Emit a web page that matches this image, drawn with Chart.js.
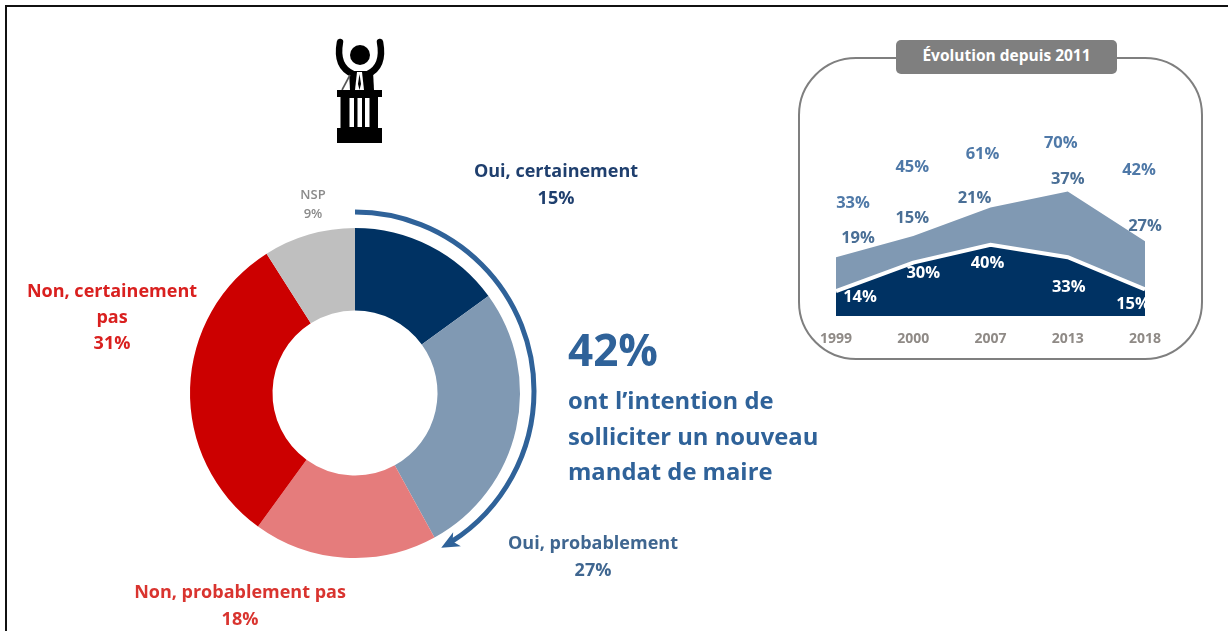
<!DOCTYPE html>
<html lang="fr">
<head>
<meta charset="utf-8">
<title>Intention de solliciter un nouveau mandat</title>
<script src="https://cdn.jsdelivr.net/npm/chart.js@4/dist/chart.umd.min.js"></script>
<style>
  html, body { margin: 0; padding: 0; background: #fff; }
  body { width: 1228px; height: 631px; position: relative; overflow: hidden; font-family: "Open Sans", sans-serif; filter: blur(0.4px); }
  #frame { position: absolute; left: 5px; top: 5px; width: 1240px; height: 640px; border: 2px solid #111; box-sizing: border-box; }
  #donutWrap { position: absolute; left: 130px; top: 168px; width: 450px; height: 450px; }
  #areaWrap { position: absolute; left: 796px; top: 130px; width: 390px; height: 220px; }
  #inset { position: absolute; left: 798px; top: 57px; width: 405px; height: 303px; border: 2px solid #7f7f7f; border-radius: 58px; box-sizing: border-box; }
  #insetTitle { position: absolute; left: 896px; top: 40px; width: 221px; height: 34px; background: #7f7f7f; border-radius: 5px; color: #fff; font-weight: 700; font-size: 15.5px; line-height: 31px; text-align: center; }
  .t { position: absolute; font-weight: 700; text-align: center; white-space: nowrap; font-size: 18px; }
  #big { position: absolute; left: 568px; top: 320px; color: #2f6299; font-weight: 700; font-size: 44px; line-height: 58px; }
  #bigText { position: absolute; left: 568px; top: 383px; color: #2f6299; font-weight: 700; font-size: 23.8px; line-height: 35.5px; white-space: nowrap; }
  #icon { position: absolute; left: 330px; top: 36px; }
</style>
</head>
<body>
<div id="frame"></div>

<svg id="icon" width="60" height="110" viewBox="0 0 60 110">
  <path d="M10 6 C7 22 11 33 23 38 M50 6 C53 22 49 33 38 38" fill="none" stroke="#000" stroke-width="6.5" stroke-linecap="round"/>
  <circle cx="30" cy="19" r="10" fill="#000"/>
  <path d="M19 35 L43 35 L44 54 L20 54 Z" fill="#000"/>
  <path d="M27 36 L25 54 L34 54 L32 36 Z" fill="#fff"/>
  <path d="M29.5 38 L28 48 L29.5 54 L31 48 Z" fill="#000"/>
  <path d="M20 39 L12 54" fill="none" stroke="#555" stroke-width="1.6"/>
  <rect x="7" y="54" width="45" height="7" fill="#000"/>
  <rect x="10.5" y="61" width="37.5" height="31" fill="#000"/>
  <rect x="19.5" y="62" width="4.5" height="29" fill="#fff"/>
  <rect x="27.5" y="62" width="4.5" height="29" fill="#fff"/>
  <rect x="35" y="62" width="4.5" height="29" fill="#fff"/>
  <rect x="7" y="92" width="45" height="15" fill="#000"/>
</svg>

<div id="donutWrap"><canvas id="donutChart"></canvas></div>

<div class="t" style="left:456px;top:157px;width:200px;color:#1f3f6e;line-height:27px">Oui, certainement<br>15%</div>
<div class="t" style="left:493px;top:529px;width:200px;color:#3f6690;line-height:27px">Oui, probablement<br>27%</div>
<div class="t" style="left:120px;top:578px;width:240px;color:#d9342f;line-height:27px">Non, probablement pas<br>18%</div>
<div class="t" style="left:12px;top:277px;width:200px;color:#d9201f;line-height:26px">Non, certainement<br>pas<br>31%</div>
<div class="t" style="left:283px;top:185px;width:60px;color:#8a8a8a;font-size:13px;font-weight:600;line-height:19px">NSP<br>9%</div>

<div id="big">42%</div>
<div id="bigText">ont l’intention de<br>solliciter un nouveau<br>mandat de maire</div>

<div id="inset"></div>
<div id="insetTitle">Évolution depuis 2011</div>
<div id="areaWrap"><canvas id="areaChart"></canvas></div>

<script>
// donut
const donutLabels = ['Oui, certainement', 'Oui, probablement', 'Non, probablement pas', 'Non, certainement pas', 'NSP'];
const donutValues = [15, 27, 18, 31, 9];
const donutColors = ['#003263', '#8099b3', '#e57c7c', '#cc0000', '#bfbfbf'];

// evolution
const years = ['1999', '2000', '2007', '2013', '2018'];
const certainement = [14, 30, 40, 33, 15];
const probablement = [19, 15, 21, 37, 27];
const totalOui = [33, 45, 61, 70, 42];

Chart.defaults.animation = false;
Chart.defaults.font.family = '"Open Sans", sans-serif';

// blue arrow going round the "oui" slices
const ouiArrow = {
  id: 'ouiArrow',
  afterDraw(chart) {
    const arc = chart.getDatasetMeta(0).data[0];
    const c = chart.ctx;
    const cy = arc.y - 2;
    const r = arc.outerRadius + 14;
    const total = donutValues.reduce((a, b) => a + b, 0);
    const start = -Math.PI / 2;
    const end = start + (donutValues[0] + donutValues[1]) / total * 2 * Math.PI;
    c.save();
    c.strokeStyle = '#2f6299';
    c.fillStyle = '#2f6299';
    c.lineWidth = 5;
    c.beginPath();
    c.arc(arc.x, cy, r, start, end - 12 / r);
    c.stroke();
    c.translate(arc.x + r * Math.cos(end), cy + r * Math.sin(end));
    c.rotate(end + Math.PI / 2);
    c.beginPath();
    c.moveTo(0, 0);
    c.lineTo(-18, -8);
    c.lineTo(-13, 0);
    c.lineTo(-18, 8);
    c.closePath();
    c.fill();
    c.restore();
  }
};

new Chart(document.getElementById('donutChart'), {
  type: 'doughnut',
  data: {
    labels: donutLabels,
    datasets: [{ data: donutValues, backgroundColor: donutColors, borderWidth: 0 }]
  },
  options: {
    responsive: true,
    maintainAspectRatio: false,
    cutout: '50%',
    radius: 165,
    layout: { padding: 0 },
    plugins: { legend: { display: false }, tooltip: { enabled: false } }
  },
  plugins: [ouiArrow]
});

// value labels on the area chart, nudged off the points
const labelNudges = {
  certainement: [[24, 6], [10, 11], [-3, 18], [1, 30], [-12, 15]],
  probablement: [[22, -19], [-1, -18], [-16, -9], [0, -12], [0, -15]],
  totalOui: [[17, -54], [-1, -69], [-8, -53], [-7, -48], [-6, -71]]
};

const areaLabels = {
  id: 'areaLabels',
  afterDatasetsDraw(chart) {
    const c = chart.ctx;
    const x = chart.scales.x, y = chart.scales.y;
    c.save();
    c.font = '700 16.5px "Open Sans", sans-serif';
    c.textAlign = 'center';
    c.textBaseline = 'middle';
    years.forEach((yr, i) => {
      const px = x.getPixelForValue(i);
      const put = (text, color, nudge, val) => {
        c.fillStyle = color;
        c.fillText(text + '%', px + nudge[0], y.getPixelForValue(val) + nudge[1]);
      };
      put(certainement[i], '#fff', labelNudges.certainement[i], certainement[i]);
      put(probablement[i], '#4a6f96', labelNudges.probablement[i], certainement[i] + probablement[i]);
      put(totalOui[i], '#4f79a8', labelNudges.totalOui[i], totalOui[i]);
    });
    c.restore();
  }
};

new Chart(document.getElementById('areaChart'), {
  type: 'line',
  data: {
    labels: years,
    datasets: [
      { label: 'Oui, certainement', data: certainement, fill: 'origin', backgroundColor: '#003263', borderColor: '#fff', borderWidth: 4, pointRadius: 0, tension: 0, order: 1 },
      { label: 'Oui, probablement', data: probablement, fill: '-1', backgroundColor: '#8099b3', borderColor: '#8099b3', borderWidth: 0, pointRadius: 0, tension: 0, order: 2 }
    ]
  },
  options: {
    responsive: true,
    maintainAspectRatio: false,
    layout: { padding: { left: 40, right: 41, top: 8, bottom: 0 } },
    scales: {
      x: {
        offset: false,
        grid: { display: false },
        border: { display: false },
        afterFit(scale) { scale.height = 34; },
        ticks: { color: '#8f8a86', font: { size: 14, weight: '700' }, padding: 7, maxRotation: 0, autoSkip: false, align: 'center' }
      },
      y: {
        display: false,
        stacked: true,
        min: 0,
        max: 100
      }
    },
    plugins: { legend: { display: false }, tooltip: { enabled: false } }
  },
  plugins: [areaLabels]
});
</script>
</body>
</html>
